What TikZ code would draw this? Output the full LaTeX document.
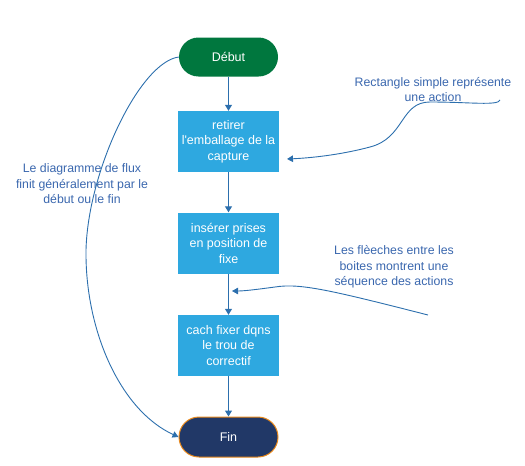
\documentclass[tikz,border=0pt]{standalone}
\usepackage{fontspec}
\setmainfont{Liberation Sans}
\usetikzlibrary{positioning,arrows.meta}
\definecolor{debutgreen}{HTML}{00773E}
\definecolor{boxblue}{HTML}{2EA8E0}
\definecolor{finnavy}{HTML}{213867}
\definecolor{finorange}{HTML}{E8891C}
\definecolor{lineblue}{HTML}{2C6FAD}
\definecolor{noteblue}{HTML}{3A67AE}

\begin{document}
\begin{tikzpicture}[
    x=1pt, y=-1pt,
    box/.style={fill=boxblue, text=white, minimum width=101pt,
                minimum height=61pt, inner sep=1pt, align=center,
                font=\fontsize{12.5}{15.5}\selectfont},
    pill/.style={minimum width=99pt, minimum height=39pt, text=white,
                 font=\fontsize{12.5}{15.5}\selectfont},
    note/.style={text=noteblue, align=center, font=\fontsize{12.3}{15.5}\selectfont},
    arr/.style={-{Triangle[width=7pt,length=6pt]}, draw=lineblue, line width=1pt},
    curv/.style={-{Triangle[width=6.5pt,length=6pt]}, draw=lineblue, line width=0.9pt}
]
  \useasboundingbox (0,0) rectangle (525,466);

  % main flow
  \node[pill, fill=debutgreen, rounded corners=19.5pt] (debut) at (228.5,57) {Début};
  \node[box] (retirer) at (228.5,141.5) {retirer\\l\textquotesingle emballage de la\\capture};
  \node[box] (inserer) at (228.5,243) {insérer prises\\en position de\\fixe};
  \node[box] (fixer) at (228.5,345.5) {cach fixer dqns\\le trou de\\correctif};
  \node[pill, fill=finnavy, draw=finorange, line width=1pt,
        minimum height=40pt, rounded corners=20pt] (fin) at (228.5,437) {Fin};

  \draw[arr] (debut) -- (retirer);
  \draw[arr] (retirer) -- (inserer);
  \draw[arr] (inserer) -- (fixer);
  \draw[arr] (fixer) -- (fin);

  % annotations
  \node[note] (noteflux) at (82,184) {Le diagramme de flux\\finit généralement par le\\début ou le fin};
  \node[note] (noterect) at (433,89.5) {Rectangle simple représente\\une action};
  \node[note] (notefleche) at (394,267) {Les flèeches entre les\\boites montrent une\\séquence des actions};

  \coordinate (rectstart) at (500,100);
  \coordinate (rectend) at (287,159);
  \coordinate (seqstart) at (428,315);
  \coordinate (seqend) at (232,291);

  \draw[curv] (debut.west) .. controls (140,62) and (88,170) .. (86,250)
    .. controls (85,330) and (120,410) .. (fin.west);
  \draw[curv] (rectstart) .. controls (498,106) and (470,102) .. (430,102)
    .. controls (400,102) and (405,138) .. (370,147)
    .. controls (340,155) and (310,158) .. (rectend);
  \draw[curv] (seqstart) .. controls (330,290) and (300,283) .. (275,287)
    .. controls (260,289) and (245,291) .. (seqend);
\end{tikzpicture}
\end{document}
